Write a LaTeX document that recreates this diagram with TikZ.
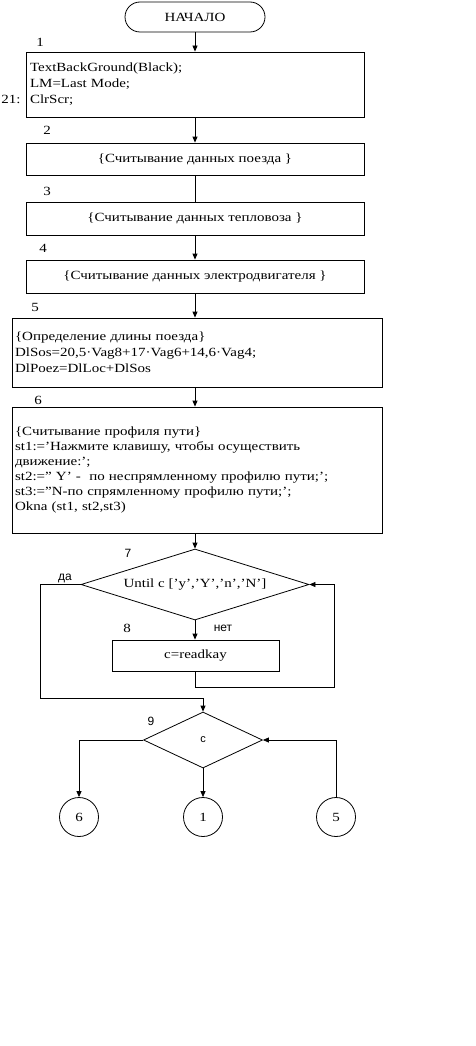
\documentclass[tikz,border=0pt]{standalone}
\usepackage{fontspec}
\setmainfont{Liberation Serif}[FakeStretch=1.2]
\newfontfamily\lblsans{Liberation Sans}
\usepackage{tikz}
\usetikzlibrary{arrows.meta,shapes.geometric}
\newcommand{\boxfont}{\fontsize{12.5}{16}\selectfont}
\newcommand{\sansfont}{\fontsize{12}{14}\selectfont\lblsans}
\tikzset{
  arr/.style      = {-{Triangle[length=6pt,width=5pt]}},
  plain/.style    = {line width=0.8pt},
  termbox/.style  = {draw,line width=0.8pt,rounded corners=15pt,minimum width=140pt,minimum height=30pt},
  leftbox/.style  = {draw,line width=0.8pt,align=left,inner ysep=0pt},
  midbox/.style   = {draw,line width=0.8pt,align=center,minimum width=338pt,minimum height=33pt,inner sep=0pt},
  decide/.style   = {draw,line width=0.8pt,diamond,inner sep=0pt},
  jumpto/.style   = {draw,line width=0.8pt,circle,minimum size=39pt,inner sep=0pt},
  numlbl/.style   = {inner sep=0pt}
}

\begin{document}
\begin{tikzpicture}[x=1pt,y=-1pt,font=\boxfont]
  \useasboundingbox (0,0) rectangle (476,1046);
  % blocks
  \node[termbox] (start) at (195,17) {НАЧАЛО};
  \node[leftbox,text width=330pt,inner xsep=4pt,minimum height=65pt] (b1) at (195,84.5)
        {TextBackGround(Black);\\LM=Last Mode;\\ClrScr;};
  \node[midbox,minimum height=32pt] (b2) at (195,159) {\{Считывание данных поезда \}};
  \node[midbox] (b3) at (195,218.5) {\{Считывание данных тепловоза \}};
  \node[midbox] (b4) at (195,276.5) {\{Считывание данных электродвигателя \}};
  \node[leftbox,text width=364pt,inner xsep=3pt,minimum height=69pt] (b5) at (197,352.5)
        {\{Определение длины поезда\}\\DlSos=20,5·Vag8+17·Vag6+14,6·Vag4;\\DlPoez=DlLoc+DlSos};
  \node[leftbox,text width=364pt,inner xsep=3pt,minimum height=126pt,
        font=\fontsize{12.5}{15}\selectfont] (b6) at (197,470)
        {\{Считывание профиля пути\}\\st1:='Нажмите клавишу, чтобы осуществить\\движение:';\\
         st2:=''~Y'~-~~по неспрямленному профилю пути;';\\st3:=''N-по спрямленному профилю пути;';\\
         Okna (st1, st2,st3)};
  \node[decide,minimum width=228pt,minimum height=71pt,aspect=3.2] (d7) at (195,584.5)
        {Until c ['y','Y','n','N']};
  \node[midbox,minimum width=167pt,minimum height=31pt] (b8) at (195.5,655.5) {c=readkay};
  \node[decide,minimum width=119pt,minimum height=56pt,aspect=2.1,
        font=\fontsize{11}{13}\selectfont\lblsans] (d9) at (203,740) {c};
  \node[jumpto] (c6) at (79,817) {6};
  \node[jumpto] (c1) at (203,817) {1};
  \node[jumpto] (c5) at (336,817) {5};
  % numbers and labels
  \node[numlbl] (n1) at (40,42) {1};
  \node[numlbl] (n21) at (11,99) {21:};
  \node[numlbl] (n2) at (47,130) {2};
  \node[numlbl] (n3) at (47,191) {3};
  \node[numlbl] (n4) at (43,248) {4};
  \node[numlbl] (n5) at (35,307) {5};
  \node[numlbl] (n6) at (38,400) {6};
  \node[numlbl,font=\sansfont] (n7) at (128,553) {7};
  \node[numlbl] (n8) at (127,628) {8};
  \node[numlbl,font=\sansfont] (n9) at (151,721) {9};
  \node[numlbl,font=\sansfont] (yes) at (65,578) {да};
  \node[numlbl,font=\sansfont] (no) at (223,628) {нет};
  \coordinate (loopR) at (334,687);
  \coordinate (loopL) at (40,698);
  % connectors
  \draw[plain,arr] (start) -- (b1);
  \draw[plain,arr] (b1) -- (b2);
  \draw[plain] (b2) -- (b3);
  \draw[plain,arr] (b3) -- (b4);
  \draw[plain,arr] (b4.south) -- (b4.south |- b5.north);
  \draw[plain,arr] (b4.south |- b5.south) -- (b4.south |- b6.north);
  \draw[plain,arr] (b4.south |- b6.south) -- (d7.north);
  \draw[plain,arr] (d7.south) -- (d7.south |- b8.north);
  \draw[plain,arr] (d7.south |- b8.south) |- (loopR) |- (d7.east);
  \draw[plain,arr] (d7.west) -| (loopL) -| (d9.north);
  \draw[plain,arr] (d9.west) -| (c6.north);
  \draw[plain,arr] (d9.south) -- (c1.north);
  \draw[plain,arr] (c5.north) |- (d9.east);
\end{tikzpicture}
\end{document}
